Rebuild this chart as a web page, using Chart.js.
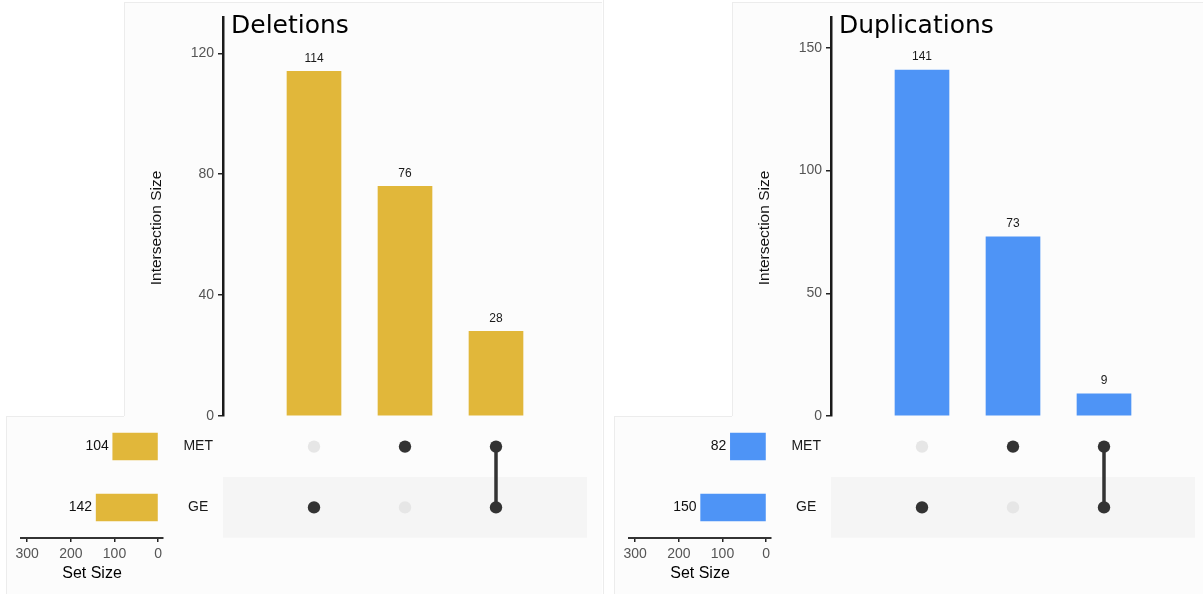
<!DOCTYPE html>
<html><head><meta charset="utf-8">
<script src="https://cdn.jsdelivr.net/npm/chart.js@4.4.1/dist/chart.umd.min.js"></script>
<style>
html,body{margin:0;padding:0;background:#fff}
body{width:1203px;height:594px;position:relative;overflow:hidden}
.bg{position:absolute;background:#fcfcfc}
.ln{position:absolute;background:#ececec}
canvas{position:absolute;display:block}
</style></head><body>
<script>
// ---- data ----
const panelTitles = ['Deletions', 'Duplications'];
const setNames = ['MET', 'GE'];
const delSetSizes = [104, 142];
const dupSetSizes = [82, 150];
const delIntersections = [114, 76, 28];
const dupIntersections = [141, 73, 9];
const metMembership = [0, 1, 1];
const geMembership = [1, 0, 1];
const delYTicks = [0, 40, 80, 120];
const dupYTicks = [0, 50, 100, 150];
const setSizeTicks = [0, 100, 200, 300];
const delYMax = 132;
const dupYMax = 162.6;
const setSizeMin = -11;
const setSizeMax = 314;
const yAxisTitle = 'Intersection Size';
const xAxisTitle = 'Set Size';
const delColor = '#E1B73A';
const dupColor = '#4E94F6';

// ---- setup ----
Chart.defaults.font.family = '"Liberation Sans", Arial, sans-serif';
Chart.defaults.animation = false;
Chart.defaults.responsive = false;
Chart.defaults.devicePixelRatio = 1;
Chart.defaults.plugins.legend.display = false;
Chart.defaults.plugins.tooltip.enabled = false;
Chart.defaults.events = [];

function addDiv(cls, l, t, w, h) {
  const d = document.createElement('div');
  d.className = cls;
  Object.assign(d.style, {left: l + 'px', top: t + 'px', width: w + 'px', height: h + 'px'});
  document.body.appendChild(d);
}
function addCanvas(l, t, w, h) {
  const c = document.createElement('canvas');
  c.width = w; c.height = h;
  Object.assign(c.style, {left: l + 'px', top: t + 'px', width: w + 'px', height: h + 'px'});
  document.body.appendChild(c);
  return c.getContext('2d');
}
const fixedTicks = arr => s => { s.ticks = arr.map(v => ({value: v})); };
const fixWidth = w => s => { s.width = w; s.paddingTop = 0; s.paddingBottom = 0; };

function panel(ox, title, intersections, yTicks, yMax, setSizes, color) {
  // panel backgrounds
  addDiv('bg', ox + 124, 2, 478, 414);
  addDiv('bg', ox + 6, 416, 596, 178);
  addDiv('ln', ox + 124, 2, 1, 414);
  addDiv('ln', ox + 124, 2, 478, 1);
  addDiv('ln', ox + 6, 416, 118, 1);
  addDiv('ln', ox + 6, 416, 1, 178);

  // intersection size bars (canvas spans y 0..430, chart area 17..416)
  new Chart(addCanvas(ox + 124, 0, 478, 430), {
    type: 'bar',
    data: {datasets: [{
      data: intersections.map((v, i) => ({x: i + 1, y: v})),
      backgroundColor: color, barThickness: 54, borderWidth: 0
    }]},
    options: {
      layout: {padding: {left: 0, right: 15, top: 17, bottom: 14}},
      scales: {
        x: {type: 'linear', min: 0, max: 4, offset: false, display: false},
        y: {
          min: 0, max: yMax,
          afterFit: fixWidth(99),
          afterBuildTicks: fixedTicks(yTicks),
          ticks: {font: {size: 14}, color: '#555', padding: 4},
          grid: {drawOnChartArea: false, drawTicks: true, tickLength: 5, color: '#222', lineWidth: 1.5},
          border: {display: true, color: '#1a1a1a', width: 2.5}
        }
      }
    },
    plugins: [{
      id: 'labels',
      afterDatasetsDraw(chart) {
        const ctx = chart.ctx, ca = chart.chartArea;
        ctx.save();
        ctx.font = '12px "Liberation Sans", Arial';
        ctx.fillStyle = '#1a1a1a';
        ctx.textAlign = 'center';
        ctx.textBaseline = 'middle';
        chart.getDatasetMeta(0).data.forEach((el, i) => ctx.fillText(String(intersections[i]), el.x, el.y - 13));
        ctx.font = '25px "DejaVu Sans"';
        ctx.fillStyle = '#000';
        ctx.textAlign = 'left';
        ctx.textBaseline = 'alphabetic';
        ctx.fillText(title, ca.left + 8, 33);
        ctx.translate(ca.left - 66, 228);
        ctx.rotate(-Math.PI / 2);
        ctx.font = '15.5px "Liberation Sans", Arial';
        ctx.fillStyle = '#111';
        ctx.textAlign = 'center';
        ctx.textBaseline = 'middle';
        ctx.fillText(yAxisTitle, 0, 0);
        ctx.restore();
      }
    }]
  });

  // membership matrix (chart area 416..538)
  const memberships = [metMembership, geMembership];
  const dotSets = memberships.map((m, r) => ({
    data: m.map((_, c) => ({x: c + 1, y: setNames[r]})),
    pointBackgroundColor: m.map(v => v ? '#333333' : '#e6e6e6'),
    pointBorderWidth: 0, pointRadius: 6.2, showLine: false, order: 1
  }));
  const lineSets = intersections
    .map((_, c) => memberships.map((m, r) => m[c] ? {x: c + 1, y: setNames[r]} : null).filter(Boolean))
    .filter(pts => pts.length > 1)
    .map(pts => ({data: pts, showLine: true, borderColor: '#333333', borderWidth: 3.5, pointRadius: 0, order: 2}));
  new Chart(addCanvas(ox + 124, 410, 478, 134), {
    type: 'scatter',
    data: {datasets: [...dotSets, ...lineSets]},
    options: {
      layout: {padding: {left: 0, right: 15, top: 6, bottom: 6}},
      scales: {
        x: {type: 'linear', min: 0, max: 4, display: false},
        y: {
          type: 'category', labels: setNames, offset: true,
          afterFit: fixWidth(99),
          ticks: {font: {size: 14}, color: '#1a1a1a', crossAlign: 'center', padding: 10},
          grid: {display: false, drawTicks: false, tickLength: 0}, border: {display: false}
        }
      }
    },
    plugins: [{
      id: 'band',
      beforeDatasetsDraw(chart) {
        const ctx = chart.ctx, ca = chart.chartArea, ys = chart.scales.y;
        const h = (ca.bottom - ca.top) / setNames.length;
        ctx.save();
        ctx.fillStyle = '#f5f5f5';
        setNames.forEach((_, r) => {
          if (r % 2 === 1) {
            const py = ys.getPixelForValue(r);
            ctx.fillRect(ca.left, py - h / 2, ca.right - ca.left, h);
          }
        });
        ctx.restore();
      }
    }]
  });

  // set size bars
  new Chart(addCanvas(ox, 410, 180, 184), {
    type: 'bar',
    data: {labels: setNames, datasets: [{data: setSizes, backgroundColor: color, barThickness: 27, borderWidth: 0}]},
    options: {
      indexAxis: 'y',
      layout: {padding: {left: 21, right: 17, top: 6, bottom: 0}},
      scales: {
        y: {display: false, offset: true},
        x: {
          type: 'linear', reverse: true, min: setSizeMin, max: setSizeMax,
          afterFit: s => { s.height = 56; },
          afterBuildTicks: fixedTicks(setSizeTicks),
          ticks: {font: {size: 14}, color: '#555', padding: 4, maxRotation: 0},
          grid: {drawOnChartArea: false, drawTicks: true, tickLength: 4, color: '#222', lineWidth: 1.5},
          border: {display: true, color: '#333', width: 2},
          title: {display: true, text: xAxisTitle, font: {size: 16}, color: '#000', padding: {top: 0, bottom: 11}}
        }
      }
    },
    plugins: [{
      id: 'sizeLabels',
      afterDatasetsDraw(chart) {
        const ctx = chart.ctx;
        ctx.save();
        ctx.font = '14px "Liberation Sans", Arial';
        ctx.fillStyle = '#111';
        ctx.textAlign = 'right';
        ctx.textBaseline = 'middle';
        chart.getDatasetMeta(0).data.forEach((el, i) => ctx.fillText(String(setSizes[i]), el.x - 4, el.y));
        ctx.restore();
      }
    }]
  });
}

panel(0, panelTitles[0], delIntersections, delYTicks, delYMax, delSetSizes, delColor);
panel(608, panelTitles[1], dupIntersections, dupYTicks, dupYMax, dupSetSizes, dupColor);
addDiv('ln', 603, 0, 1, 594);
</script>
</body></html>
